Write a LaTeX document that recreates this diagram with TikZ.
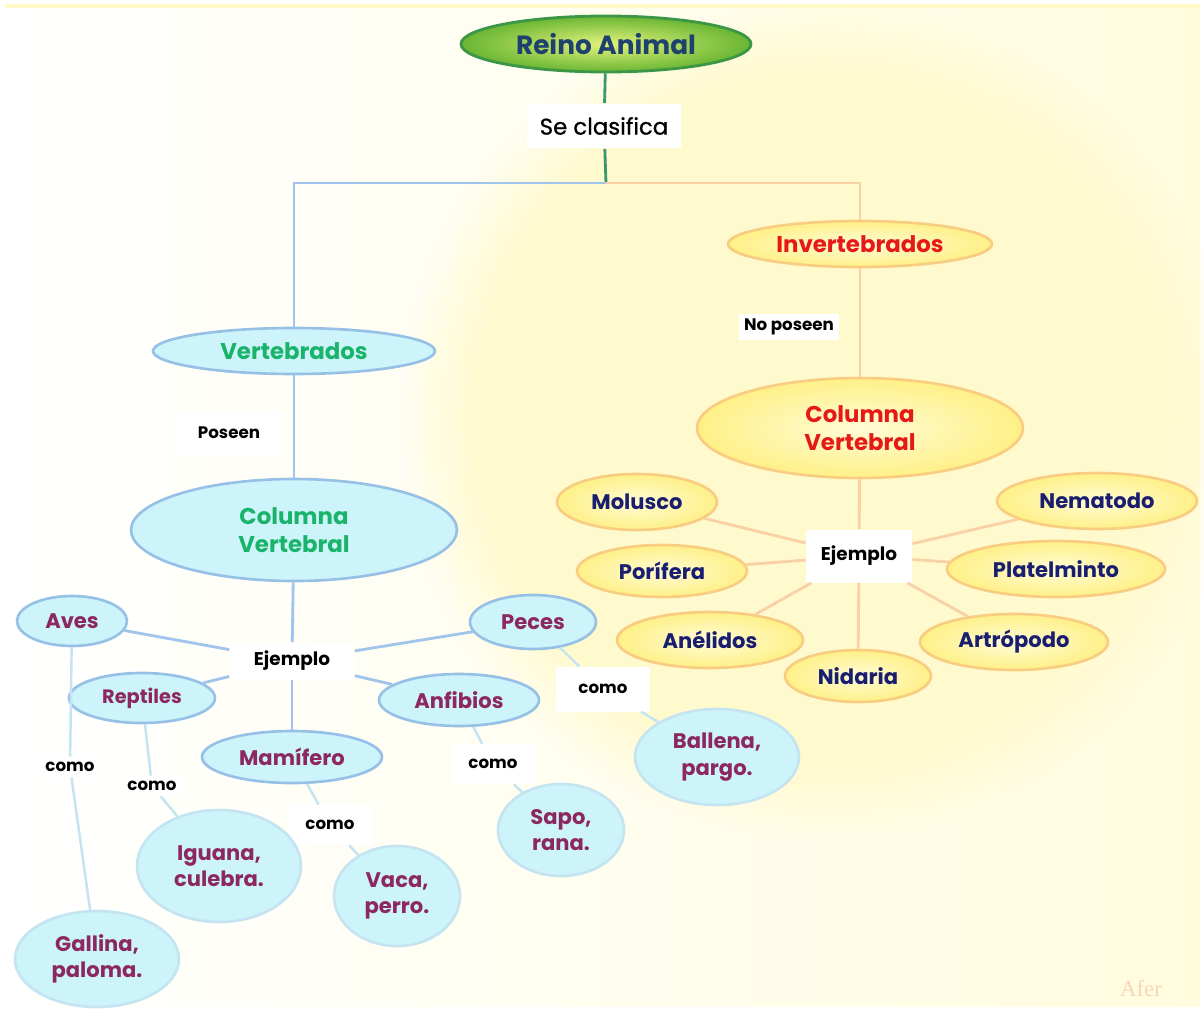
\documentclass[tikz,border=0pt]{standalone}
\usepackage{fontspec}
\setmainfont{Poppins}
\newfontfamily\midfont{Poppins}[FakeBold=0.8]
\newfontfamily\markfont{Liberation Serif}
\usepackage{tikz}
\usetikzlibrary{shapes.geometric,fadings}

\definecolor{nodeblue}{RGB}{205,244,250}
\definecolor{rimblue}{RGB}{150,192,230}
\definecolor{edgeblue}{RGB}{160,196,235}
\definecolor{faintblue}{RGB}{195,228,240}
\definecolor{yelin}{RGB}{255,252,215}
\definecolor{yelout}{RGB}{255,240,135}
\definecolor{rimorange}{RGB}{248,205,130}
\definecolor{edgeorange}{RGB}{250,208,165}
\definecolor{grnin}{RGB}{228,242,125}
\definecolor{grnout}{RGB}{105,182,50}
\definecolor{rimgreen}{RGB}{60,150,70}
\definecolor{stemgreen}{RGB}{60,150,110}
\definecolor{txtgreen}{RGB}{25,180,105}
\definecolor{txtpurple}{RGB}{140,40,95}
\definecolor{txtnavy}{RGB}{25,30,110}
\definecolor{txtred}{RGB}{230,25,25}
\definecolor{txttitle}{RGB}{30,65,110}
\definecolor{bgyellow}{RGB}{255,252,222}
\definecolor{bgglow}{RGB}{255,250,205}
\definecolor{bgline}{RGB}{255,250,200}
\definecolor{markcol}{RGB}{248,215,185}

\begin{document}
\begin{tikzpicture}[x=0.02cm,y=-0.02cm,
  blue node/.style={ellipse,draw=rimblue,line width=1.5pt,fill=nodeblue,
    inner sep=0pt,align=center,text=txtpurple,
    font=\bfseries\fontsize{12}{15}\selectfont},
  blue leaf/.style={blue node,draw=faintblue},
  yellow node/.style={ellipse,draw=rimorange,line width=1.5pt,
    inner color=yelin,outer color=yelout,inner sep=0pt,align=center,
    text=txtnavy,font=\bfseries\fontsize{12}{15}\selectfont},
  tag/.style={fill=white,inner sep=3pt,text=black,
    font=\bfseries\fontsize{9.5}{11}\selectfont},
  blue line/.style={draw=edgeblue,line width=1.6pt},
  faint line/.style={draw=faintblue,line width=1.4pt},
  orange line/.style={draw=edgeorange,line width=1.6pt}]

  % background
  \useasboundingbox (0,0) rectangle (1204,1011);
  \clip (0,0) rectangle (1204,1011);
  \fill[white] (0,0) rectangle (1204,1011);
  \shade[left color=white,right color=bgyellow] (5,5) rectangle (1200,1006);
  \fill[bgglow,path fading=circle with fuzzy edge 20 percent]
    (820,420) ellipse (420 and 420);
  \draw[bgline,line width=2pt] (5,6) -- (1200,6);

  % top
  \node[ellipse,draw=rimgreen,line width=1.6pt,inner color=grnin,outer color=grnout,
    minimum width=5.8cm,minimum height=1.12cm,text=txttitle,
    font=\bfseries\fontsize{15}{18}\selectfont] (reino) at (606,44) {Reino Animal};
  \node[fill=white,minimum width=3.1cm,minimum height=0.9cm,
    font=\midfont\fontsize{13}{15}\selectfont] (clasif) at (604,126) {Se clasifica};
  \coordinate (split) at (606,183);

  % two branches
  \node[blue node,text=txtgreen,font=\bfseries\fontsize{13}{15}\selectfont,
    minimum width=5.64cm,minimum height=0.92cm] (vert) at (294,351) {Vertebrados};
  \node[yellow node,text=txtred,font=\bfseries\fontsize{13}{15}\selectfont,
    minimum width=5.28cm,minimum height=0.92cm] (invert) at (860,244) {Invertebrados};

  \node[tag,minimum width=2.16cm,minimum height=0.9cm] (poseen) at (229,433) {Poseen};
  \node[tag] (noposeen) at (789,327) {No poseen};

  \node[blue node,text=txtgreen,font=\bfseries\fontsize{13}{16}\selectfont,
    minimum width=6.52cm,minimum height=2.04cm] (colL) at (294,530) {Columna\\Vertebral};
  \node[yellow node,text=txtred,font=\bfseries\fontsize{13}{16}\selectfont,
    minimum width=6.52cm,minimum height=2cm] (colR) at (860,428) {Columna\\Vertebral};

  % vertebrates
  \node[tag,font=\bfseries\fontsize{10.5}{12}\selectfont,
    minimum width=2.5cm,minimum height=0.74cm] (ejL) at (292,661) {Ejemplo};
  \node[blue node,minimum width=2.2cm,minimum height=1cm] (aves) at (72,621) {Aves};
  \node[blue node,minimum width=2.52cm,minimum height=1.08cm] (peces) at (533,622) {Peces};
  \node[blue node,font=\bfseries\fontsize{11}{13}\selectfont,
    minimum width=2.92cm,minimum height=1cm] (rept) at (142,698) {Reptiles};
  \node[blue node,minimum width=3.2cm,minimum height=1.04cm] (anfi) at (459,700) {Anfibios};
  \node[blue node,minimum width=3.6cm,minimum height=1.04cm] (mami) at (292,757) {Mamífero};

  \node[tag] (como1) at (70,767) {como};
  \node[tag] (como2) at (152,786) {como};
  \node[tag,minimum width=1.7cm,minimum height=0.8cm] (como3) at (330,825) {como};
  \node[tag,minimum width=1.7cm,minimum height=0.8cm] (como4) at (493,764) {como};
  \node[tag,minimum width=1.88cm,minimum height=0.9cm] (como5) at (603,689) {como};

  \node[blue leaf,minimum width=3.28cm,minimum height=1.92cm] (gallina) at (97,959) {Gallina,\\paloma.};
  \node[blue leaf,minimum width=3.28cm,minimum height=2.24cm] (iguana) at (219,866) {Iguana,\\culebra.};
  \node[blue leaf,minimum width=2.52cm,minimum height=2cm] (vaca) at (397,896) {Vaca,\\perro.};
  \node[blue leaf,minimum width=2.52cm,minimum height=1.84cm] (sapo) at (561,830) {Sapo,\\rana.};
  \node[blue leaf,minimum width=3.28cm,minimum height=1.92cm] (ballena) at (717,757) {Ballena,\\pargo.};

  % invertebrates
  \node[tag,font=\bfseries\fontsize{10.5}{12}\selectfont,
    minimum width=2.12cm,minimum height=1.06cm] (ejR) at (859,556) {Ejemplo};
  \node[yellow node,minimum width=3.2cm,minimum height=1.12cm] (molusco) at (637,502) {Molusco};
  \node[yellow node,minimum width=4cm,minimum height=1.12cm] (nema) at (1097,501) {Nematodo};
  \node[yellow node,minimum width=3.4cm,minimum height=1.04cm] (pori) at (662,571) {Porífera};
  \node[yellow node,minimum width=4.36cm,minimum height=1.12cm] (plate) at (1056,569) {Platelminto};
  \node[yellow node,minimum width=3.72cm,minimum height=1.12cm] (aneli) at (710,640) {Anélidos};
  \node[yellow node,minimum width=3.76cm,minimum height=1.12cm] (artro) at (1014,642) {Artrópodo};
  \node[yellow node,minimum width=2.92cm,minimum height=1.04cm] (nida) at (858,676) {Nidaria};

  % connectors
  \path[draw=stemgreen,line width=1.6pt] (reino) edge (clasif)
    (clasif) edge (split);
  \draw[blue line] (split) -| (vert);
  \draw[orange line] (split) -| (invert);

  \path[blue line] (vert) edge (colL)
    (colL) edge (ejL)
    (ejL) edge (aves) edge (peces) edge (rept) edge (anfi) edge (mami);
  \path[faint line] (aves) edge (como1) (como1) edge (gallina)
    (rept) edge (como2) (como2) edge (iguana)
    (mami) edge (como3) (como3) edge (vaca)
    (anfi) edge (como4) (como4) edge (sapo)
    (peces) edge (como5) (como5) edge (ballena);

  \path[orange line] (invert) edge (colR)
    (colR) edge (ejR)
    (ejR) edge (molusco) edge (nema) edge (pori) edge (plate)
      edge (aneli) edge (artro) edge (nida);

  \node[text=markcol,font=\markfont\fontsize{13}{15}\selectfont] (firma) at (1141,989) {Afer};
\end{tikzpicture}
\end{document}
